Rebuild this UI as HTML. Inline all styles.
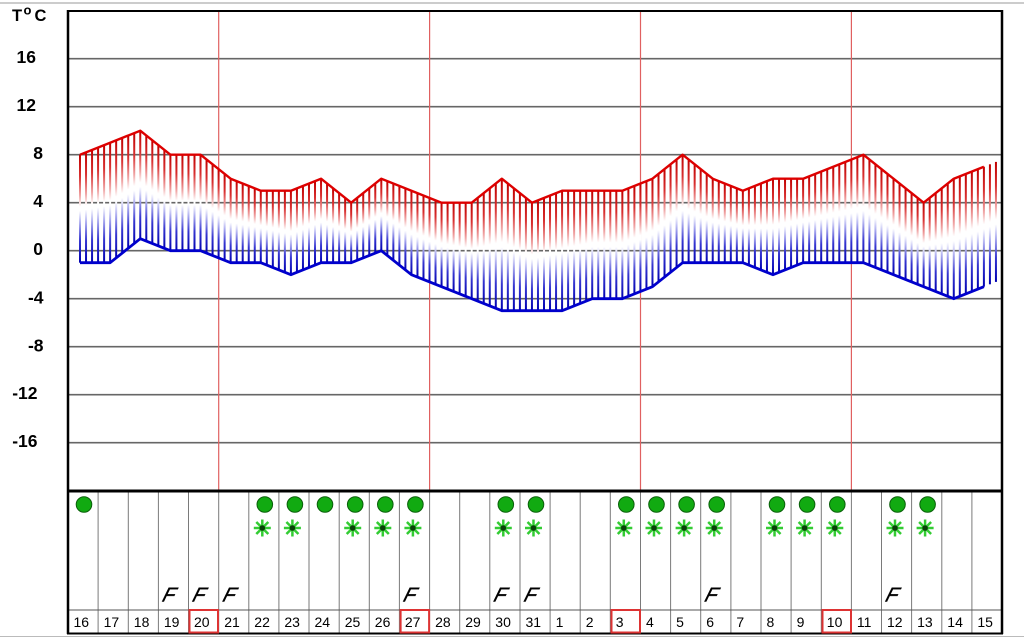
<!DOCTYPE html>
<html>
<head>
<meta charset="utf-8">
<style>
html,body{margin:0;padding:0;background:#fff;}
body{width:1024px;height:638px;overflow:hidden;}
svg{display:block;}
text{font-family:"Liberation Sans",Arial,sans-serif;}
</style>
</head>
<body>
<svg width="1024" height="638" viewBox="0 0 1024 638" xmlns="http://www.w3.org/2000/svg">
<defs>
<linearGradient id="g" x1="0" y1="0" x2="0" y2="1">
<stop offset="0" stop-color="#c00000"/>
<stop offset="0.2" stop-color="#d83030"/>
<stop offset="0.38" stop-color="#f0a8a8"/>
<stop offset="0.48" stop-color="#ffffff"/>
<stop offset="0.52" stop-color="#ffffff"/>
<stop offset="0.62" stop-color="#b8b8f2"/>
<stop offset="0.8" stop-color="#3535d0"/>
<stop offset="1" stop-color="#0000b0"/>
</linearGradient>
<g id="ast">
<g stroke="#33cc33" stroke-width="2.5" stroke-linecap="butt">
<line x1="0" y1="-8.5" x2="0" y2="8.5"/>
<line x1="-8.5" y1="0" x2="8.5" y2="0"/>
<line x1="-6" y1="-6" x2="6" y2="6"/>
<line x1="-6" y1="6" x2="6" y2="-6"/>
</g>
<circle cx="0" cy="0" r="2.8" fill="#0a400a"/>
</g>
<circle id="dot" cx="0" cy="0" r="7.8" fill="#11aa11" stroke="#0a600a" stroke-width="1"/>
</defs>

<rect x="0" y="0" width="1024" height="638" fill="#fff"/>
<line x1="0" y1="3" x2="1024" y2="3" stroke="#999" stroke-width="1"/>
<line x1="0" y1="636.5" x2="1024" y2="636.5" stroke="#bbb" stroke-width="1"/>

<!-- gridlines -->
<g stroke="#666" stroke-width="1.6">
<line x1="68" y1="58.7" x2="1002" y2="58.7"/>
<line x1="68" y1="106.7" x2="1002" y2="106.7"/>
<line x1="68" y1="154.7" x2="1002" y2="154.7"/>
<line x1="68" y1="202.7" x2="1002" y2="202.7"/>
<line x1="68" y1="250.7" x2="1002" y2="250.7"/>
<line x1="68" y1="298.7" x2="1002" y2="298.7"/>
<line x1="68" y1="346.7" x2="1002" y2="346.7"/>
<line x1="68" y1="394.7" x2="1002" y2="394.7"/>
<line x1="68" y1="442.7" x2="1002" y2="442.7"/>
</g>
<!-- red week lines -->
<g stroke="#e06060" stroke-width="1.2">
<line x1="218.7" y1="11" x2="218.7" y2="491"/>
<line x1="429.6" y1="11" x2="429.6" y2="491"/>
<line x1="640.5" y1="11" x2="640.5" y2="491"/>
<line x1="851.4" y1="11" x2="851.4" y2="491"/>
</g>

<!-- bars -->
<g fill="url(#g)">
<g transform="translate(79,0)"><rect x="0" y="154.7" width="2" height="108"/><rect x="6.03" y="152.3" width="2" height="110.4"/><rect x="12.05" y="149.9" width="2" height="112.8"/><rect x="18.08" y="147.5" width="2" height="115.2"/><rect x="24.1" y="145.1" width="2" height="117.6"/></g>
<g transform="translate(109.13,0)"><rect x="0" y="142.7" width="2" height="120"/><rect x="6.03" y="140.3" width="2" height="117.6"/><rect x="12.05" y="137.9" width="2" height="115.2"/><rect x="18.08" y="135.5" width="2" height="112.8"/><rect x="24.1" y="133.1" width="2" height="110.4"/></g>
<g transform="translate(139.26,0)"><rect x="0" y="130.7" width="2" height="108"/><rect x="6.03" y="135.5" width="2" height="105.6"/><rect x="12.05" y="140.3" width="2" height="103.2"/><rect x="18.08" y="145.1" width="2" height="100.8"/><rect x="24.1" y="149.9" width="2" height="98.4"/></g>
<g transform="translate(169.39,0)"><rect x="0" y="154.7" width="2" height="96"/><rect x="6.03" y="154.7" width="2" height="96"/><rect x="12.05" y="154.7" width="2" height="96"/><rect x="18.08" y="154.7" width="2" height="96"/><rect x="24.1" y="154.7" width="2" height="96"/></g>
<g transform="translate(199.52,0)"><rect x="0" y="154.7" width="2" height="96"/><rect x="6.03" y="159.5" width="2" height="93.6"/><rect x="12.05" y="164.3" width="2" height="91.2"/><rect x="18.08" y="169.1" width="2" height="88.8"/><rect x="24.1" y="173.9" width="2" height="86.4"/></g>
<g transform="translate(229.65,0)"><rect x="0" y="178.7" width="2" height="84"/><rect x="6.03" y="181.1" width="2" height="81.6"/><rect x="12.05" y="183.5" width="2" height="79.2"/><rect x="18.08" y="185.9" width="2" height="76.8"/><rect x="24.1" y="188.3" width="2" height="74.4"/></g>
<g transform="translate(259.78,0)"><rect x="0" y="190.7" width="2" height="72"/><rect x="6.03" y="190.7" width="2" height="74.4"/><rect x="12.05" y="190.7" width="2" height="76.8"/><rect x="18.08" y="190.7" width="2" height="79.2"/><rect x="24.1" y="190.7" width="2" height="81.6"/></g>
<g transform="translate(289.91,0)"><rect x="0" y="190.7" width="2" height="84"/><rect x="6.03" y="188.3" width="2" height="84"/><rect x="12.05" y="185.9" width="2" height="84"/><rect x="18.08" y="183.5" width="2" height="84"/><rect x="24.1" y="181.1" width="2" height="84"/></g>
<g transform="translate(320.04,0)"><rect x="0" y="178.7" width="2" height="84"/><rect x="6.03" y="183.5" width="2" height="79.2"/><rect x="12.05" y="188.3" width="2" height="74.4"/><rect x="18.08" y="193.1" width="2" height="69.6"/><rect x="24.1" y="197.9" width="2" height="64.8"/></g>
<g transform="translate(350.17,0)"><rect x="0" y="202.7" width="2" height="60"/><rect x="6.03" y="197.9" width="2" height="62.4"/><rect x="12.05" y="193.1" width="2" height="64.8"/><rect x="18.08" y="188.3" width="2" height="67.2"/><rect x="24.1" y="183.5" width="2" height="69.6"/></g>
<g transform="translate(380.3,0)"><rect x="0" y="178.7" width="2" height="72"/><rect x="6.03" y="181.1" width="2" height="74.4"/><rect x="12.05" y="183.5" width="2" height="76.8"/><rect x="18.08" y="185.9" width="2" height="79.2"/><rect x="24.1" y="188.3" width="2" height="81.6"/></g>
<g transform="translate(410.43,0)"><rect x="0" y="190.7" width="2" height="84"/><rect x="6.03" y="193.1" width="2" height="84"/><rect x="12.05" y="195.5" width="2" height="84"/><rect x="18.08" y="197.9" width="2" height="84"/><rect x="24.1" y="200.3" width="2" height="84"/></g>
<g transform="translate(440.56,0)"><rect x="0" y="202.7" width="2" height="84"/><rect x="6.03" y="202.7" width="2" height="86.4"/><rect x="12.05" y="202.7" width="2" height="88.8"/><rect x="18.08" y="202.7" width="2" height="91.2"/><rect x="24.1" y="202.7" width="2" height="93.6"/></g>
<g transform="translate(470.69,0)"><rect x="0" y="202.7" width="2" height="96"/><rect x="6.03" y="197.9" width="2" height="103.2"/><rect x="12.05" y="193.1" width="2" height="110.4"/><rect x="18.08" y="188.3" width="2" height="117.6"/><rect x="24.1" y="183.5" width="2" height="124.8"/></g>
<g transform="translate(500.82,0)"><rect x="0" y="178.7" width="2" height="132"/><rect x="6.03" y="183.5" width="2" height="127.2"/><rect x="12.05" y="188.3" width="2" height="122.4"/><rect x="18.08" y="193.1" width="2" height="117.6"/><rect x="24.1" y="197.9" width="2" height="112.8"/></g>
<g transform="translate(530.95,0)"><rect x="0" y="202.7" width="2" height="108"/><rect x="6.03" y="200.3" width="2" height="110.4"/><rect x="12.05" y="197.9" width="2" height="112.8"/><rect x="18.08" y="195.5" width="2" height="115.2"/><rect x="24.1" y="193.1" width="2" height="117.6"/></g>
<g transform="translate(561.08,0)"><rect x="0" y="190.7" width="2" height="120"/><rect x="6.03" y="190.7" width="2" height="117.6"/><rect x="12.05" y="190.7" width="2" height="115.2"/><rect x="18.08" y="190.7" width="2" height="112.8"/><rect x="24.1" y="190.7" width="2" height="110.4"/></g>
<g transform="translate(591.21,0)"><rect x="0" y="190.7" width="2" height="108"/><rect x="6.03" y="190.7" width="2" height="108"/><rect x="12.05" y="190.7" width="2" height="108"/><rect x="18.08" y="190.7" width="2" height="108"/><rect x="24.1" y="190.7" width="2" height="108"/></g>
<g transform="translate(621.34,0)"><rect x="0" y="190.7" width="2" height="108"/><rect x="6.03" y="188.3" width="2" height="108"/><rect x="12.05" y="185.9" width="2" height="108"/><rect x="18.08" y="183.5" width="2" height="108"/><rect x="24.1" y="181.1" width="2" height="108"/></g>
<g transform="translate(651.47,0)"><rect x="0" y="178.7" width="2" height="108"/><rect x="6.03" y="173.9" width="2" height="108"/><rect x="12.05" y="169.1" width="2" height="108"/><rect x="18.08" y="164.3" width="2" height="108"/><rect x="24.1" y="159.5" width="2" height="108"/></g>
<g transform="translate(681.6,0)"><rect x="0" y="154.7" width="2" height="108"/><rect x="6.03" y="159.5" width="2" height="103.2"/><rect x="12.05" y="164.3" width="2" height="98.4"/><rect x="18.08" y="169.1" width="2" height="93.6"/><rect x="24.1" y="173.9" width="2" height="88.8"/></g>
<g transform="translate(711.73,0)"><rect x="0" y="178.7" width="2" height="84"/><rect x="6.03" y="181.1" width="2" height="81.6"/><rect x="12.05" y="183.5" width="2" height="79.2"/><rect x="18.08" y="185.9" width="2" height="76.8"/><rect x="24.1" y="188.3" width="2" height="74.4"/></g>
<g transform="translate(741.86,0)"><rect x="0" y="190.7" width="2" height="72"/><rect x="6.03" y="188.3" width="2" height="76.8"/><rect x="12.05" y="185.9" width="2" height="81.6"/><rect x="18.08" y="183.5" width="2" height="86.4"/><rect x="24.1" y="181.1" width="2" height="91.2"/></g>
<g transform="translate(771.99,0)"><rect x="0" y="178.7" width="2" height="96"/><rect x="6.03" y="178.7" width="2" height="93.6"/><rect x="12.05" y="178.7" width="2" height="91.2"/><rect x="18.08" y="178.7" width="2" height="88.8"/><rect x="24.1" y="178.7" width="2" height="86.4"/></g>
<g transform="translate(802.12,0)"><rect x="0" y="178.7" width="2" height="84"/><rect x="6.03" y="176.3" width="2" height="86.4"/><rect x="12.05" y="173.9" width="2" height="88.8"/><rect x="18.08" y="171.5" width="2" height="91.2"/><rect x="24.1" y="169.1" width="2" height="93.6"/></g>
<g transform="translate(832.25,0)"><rect x="0" y="166.7" width="2" height="96"/><rect x="6.03" y="164.3" width="2" height="98.4"/><rect x="12.05" y="161.9" width="2" height="100.8"/><rect x="18.08" y="159.5" width="2" height="103.2"/><rect x="24.1" y="157.1" width="2" height="105.6"/></g>
<g transform="translate(862.38,0)"><rect x="0" y="154.7" width="2" height="108"/><rect x="6.03" y="159.5" width="2" height="105.6"/><rect x="12.05" y="164.3" width="2" height="103.2"/><rect x="18.08" y="169.1" width="2" height="100.8"/><rect x="24.1" y="173.9" width="2" height="98.4"/></g>
<g transform="translate(892.51,0)"><rect x="0" y="178.7" width="2" height="96"/><rect x="6.03" y="183.5" width="2" height="93.6"/><rect x="12.05" y="188.3" width="2" height="91.2"/><rect x="18.08" y="193.1" width="2" height="88.8"/><rect x="24.1" y="197.9" width="2" height="86.4"/></g>
<g transform="translate(922.64,0)"><rect x="0" y="202.7" width="2" height="84"/><rect x="6.03" y="197.9" width="2" height="91.2"/><rect x="12.05" y="193.1" width="2" height="98.4"/><rect x="18.08" y="188.3" width="2" height="105.6"/><rect x="24.1" y="183.5" width="2" height="112.8"/></g>
<g transform="translate(952.77,0)"><rect x="0" y="178.7" width="2" height="120"/><rect x="6.03" y="176.3" width="2" height="120"/><rect x="12.05" y="173.9" width="2" height="120"/><rect x="18.08" y="171.5" width="2" height="120"/><rect x="24.1" y="169.1" width="2" height="120"/></g>
<g transform="translate(982.9,0)"><rect x="0" y="166.7" width="2" height="120"/><rect x="6.03" y="164.3" width="2" height="120"/><rect x="12.05" y="161.9" width="2" height="120"/></g>
</g>

<!-- lines -->
<polyline fill="none" stroke="#dd0000" stroke-width="2.4" stroke-linejoin="round" points="80,154.7 110.13,142.7 140.26,130.7 170.39,154.7 200.52,154.7 230.65,178.7 260.78,190.7 290.91,190.7 321.04,178.7 351.17,202.7 381.3,178.7 411.43,190.7 441.56,202.7 471.69,202.7 501.82,178.7 531.95,202.7 562.08,190.7 592.21,190.7 622.34,190.7 652.47,178.7 682.6,154.7 712.73,178.7 742.86,190.7 772.99,178.7 803.12,178.7 833.25,166.7 863.38,154.7 893.51,178.7 923.64,202.7 953.77,178.7 983.9,166.7"/>
<polyline fill="none" stroke="#0000cc" stroke-width="2.8" stroke-linejoin="round" points="80,262.7 110.13,262.7 140.26,238.7 170.39,250.7 200.52,250.7 230.65,262.7 260.78,262.7 290.91,274.7 321.04,262.7 351.17,262.7 381.3,250.7 411.43,274.7 441.56,286.7 471.69,298.7 501.82,310.7 531.95,310.7 562.08,310.7 592.21,298.7 622.34,298.7 652.47,286.7 682.6,262.7 712.73,262.7 742.86,262.7 772.99,274.7 803.12,262.7 833.25,262.7 863.38,262.7 893.51,274.7 923.64,286.7 953.77,298.7 983.9,286.7"/>

<!-- bottom panel separators -->
<g stroke="#7a7a7a" stroke-width="1">
<line x1="98.1" y1="491" x2="98.1" y2="633"/>
<line x1="128.3" y1="491" x2="128.3" y2="633"/>
<line x1="158.4" y1="491" x2="158.4" y2="633"/>
<line x1="188.5" y1="491" x2="188.5" y2="633"/>
<line x1="218.7" y1="491" x2="218.7" y2="633"/>
<line x1="248.8" y1="491" x2="248.8" y2="633"/>
<line x1="278.9" y1="491" x2="278.9" y2="633"/>
<line x1="309.0" y1="491" x2="309.0" y2="633"/>
<line x1="339.2" y1="491" x2="339.2" y2="633"/>
<line x1="369.3" y1="491" x2="369.3" y2="633"/>
<line x1="399.4" y1="491" x2="399.4" y2="633"/>
<line x1="429.6" y1="491" x2="429.6" y2="633"/>
<line x1="459.7" y1="491" x2="459.7" y2="633"/>
<line x1="489.8" y1="491" x2="489.8" y2="633"/>
<line x1="520.0" y1="491" x2="520.0" y2="633"/>
<line x1="550.1" y1="491" x2="550.1" y2="633"/>
<line x1="580.2" y1="491" x2="580.2" y2="633"/>
<line x1="610.3" y1="491" x2="610.3" y2="633"/>
<line x1="640.5" y1="491" x2="640.5" y2="633"/>
<line x1="670.6" y1="491" x2="670.6" y2="633"/>
<line x1="700.7" y1="491" x2="700.7" y2="633"/>
<line x1="730.9" y1="491" x2="730.9" y2="633"/>
<line x1="761.0" y1="491" x2="761.0" y2="633"/>
<line x1="791.1" y1="491" x2="791.1" y2="633"/>
<line x1="821.3" y1="491" x2="821.3" y2="633"/>
<line x1="851.4" y1="491" x2="851.4" y2="633"/>
<line x1="881.5" y1="491" x2="881.5" y2="633"/>
<line x1="911.6" y1="491" x2="911.6" y2="633"/>
<line x1="941.8" y1="491" x2="941.8" y2="633"/>
<line x1="971.9" y1="491" x2="971.9" y2="633"/>
</g>
<line x1="68" y1="610" x2="1002" y2="610" stroke="#555" stroke-width="1"/>

<!-- frame -->
<g stroke="#000" fill="none">
<line x1="67" y1="11" x2="1003" y2="11" stroke-width="2"/>
<line x1="68" y1="10" x2="68" y2="634" stroke-width="2.5"/>
<line x1="1002" y1="10" x2="1002" y2="634" stroke-width="2.5"/>
<line x1="67" y1="491" x2="1003" y2="491" stroke-width="3"/>
<line x1="67" y1="633.5" x2="1003" y2="633.5" stroke-width="2"/>
</g>

<!-- Y axis labels -->
<g font-size="17.5" font-weight="bold" fill="#000" text-anchor="end">
<text x="36" y="63">16</text>
<text x="36" y="111">12</text>
<text x="43" y="159">8</text>
<text x="43" y="207">4</text>
<text x="43" y="255">0</text>
<text x="43.5" y="303.5">-4</text>
<text x="43.5" y="351.5">-8</text>
<text x="37.5" y="399">-12</text>
<text x="37.5" y="447">-16</text>
</g>
<g font-weight="bold" fill="#000">
<text x="12" y="21" font-size="16.5">T</text>
<text x="23.5" y="14.5" font-size="13">o</text>
<text x="34.5" y="21" font-size="16.5">C</text>
</g>

<!-- weather icons: circles -->
<use href="#dot" x="84" y="504.5"/>
<use href="#dot" x="264.8" y="504.5"/>
<use href="#dot" x="294.9" y="504.5"/>
<use href="#dot" x="325" y="504.5"/>
<use href="#dot" x="355.2" y="504.5"/>
<use href="#dot" x="385.3" y="504.5"/>
<use href="#dot" x="415.4" y="504.5"/>
<use href="#dot" x="505.8" y="504.5"/>
<use href="#dot" x="536" y="504.5"/>
<use href="#dot" x="626.3" y="504.5"/>
<use href="#dot" x="656.5" y="504.5"/>
<use href="#dot" x="686.6" y="504.5"/>
<use href="#dot" x="716.7" y="504.5"/>
<use href="#dot" x="777" y="504.5"/>
<use href="#dot" x="807.1" y="504.5"/>
<use href="#dot" x="837.3" y="504.5"/>
<use href="#dot" x="897.5" y="504.5"/>
<use href="#dot" x="927.6" y="504.5"/>

<!-- asterisks -->
<use href="#ast" x="262.3" y="528"/>
<use href="#ast" x="292.4" y="528"/>
<use href="#ast" x="352.7" y="528"/>
<use href="#ast" x="382.8" y="528"/>
<use href="#ast" x="412.9" y="528"/>
<use href="#ast" x="503.3" y="528"/>
<use href="#ast" x="533.5" y="528"/>
<use href="#ast" x="623.8" y="528"/>
<use href="#ast" x="654" y="528"/>
<use href="#ast" x="684.1" y="528"/>
<use href="#ast" x="714.2" y="528"/>
<use href="#ast" x="774.5" y="528"/>
<use href="#ast" x="804.6" y="528"/>
<use href="#ast" x="834.8" y="528"/>
<use href="#ast" x="895" y="528"/>
<use href="#ast" x="925.1" y="528"/>

<!-- F symbols -->
<g font-size="20" fill="#000" stroke="#000" stroke-width="0.4">
<g transform="translate(160.4,601.5) skewX(-26)"><text x="0" y="0">F</text></g>
<g transform="translate(190.5,601.5) skewX(-26)"><text x="0" y="0">F</text></g>
<g transform="translate(220.7,601.5) skewX(-26)"><text x="0" y="0">F</text></g>
<g transform="translate(401.4,601.5) skewX(-26)"><text x="0" y="0">F</text></g>
<g transform="translate(491.8,601.5) skewX(-26)"><text x="0" y="0">F</text></g>
<g transform="translate(522,601.5) skewX(-26)"><text x="0" y="0">F</text></g>
<g transform="translate(702.7,601.5) skewX(-26)"><text x="0" y="0">F</text></g>
<g transform="translate(883.5,601.5) skewX(-26)"><text x="0" y="0">F</text></g>
</g>

<!-- red boxes -->
<g fill="none" stroke="#dd3333" stroke-width="2">
<rect x="189.5" y="610" width="28.5" height="22.5"/>
<rect x="400.6" y="610" width="28.5" height="22.5"/>
<rect x="611.5" y="610" width="28.5" height="22.5"/>
<rect x="822.5" y="610" width="28.5" height="22.5"/>
</g>

<!-- day labels -->
<g font-size="14" fill="#000">
<text x="73.5" y="627">16</text>
<text x="103.6" y="627">17</text>
<text x="133.8" y="627">18</text>
<text x="163.9" y="627">19</text>
<text x="194" y="627">20</text>
<text x="224.2" y="627">21</text>
<text x="254.3" y="627">22</text>
<text x="284.4" y="627">23</text>
<text x="314.5" y="627">24</text>
<text x="344.7" y="627">25</text>
<text x="374.8" y="627">26</text>
<text x="404.9" y="627">27</text>
<text x="435.1" y="627">28</text>
<text x="465.2" y="627">29</text>
<text x="495.3" y="627">30</text>
<text x="525.5" y="627">31</text>
<text x="555.6" y="627">1</text>
<text x="585.7" y="627">2</text>
<text x="615.8" y="627">3</text>
<text x="646" y="627">4</text>
<text x="676.1" y="627">5</text>
<text x="706.2" y="627">6</text>
<text x="736.4" y="627">7</text>
<text x="766.5" y="627">8</text>
<text x="796.6" y="627">9</text>
<text x="826.8" y="627">10</text>
<text x="856.9" y="627">11</text>
<text x="887" y="627">12</text>
<text x="917.1" y="627">13</text>
<text x="947.3" y="627">14</text>
<text x="977.4" y="627">15</text>
</g>
</svg>
</body>
</html>
